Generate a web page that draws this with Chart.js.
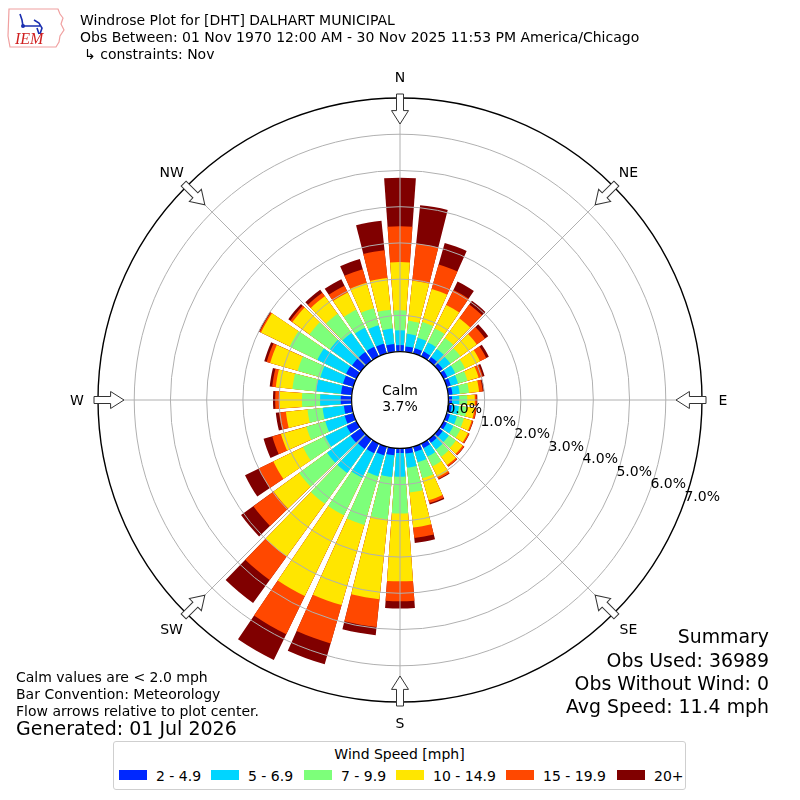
<!DOCTYPE html>
<html><head><meta charset="utf-8">
<script src="https://cdn.jsdelivr.net/npm/chart.js@4.4.1/dist/chart.umd.min.js"></script>
<style>
html,body{margin:0;padding:0;background:#fff;}
#wrap{position:relative;width:800px;height:800px;overflow:hidden;font-family:"DejaVu Sans",sans-serif;color:#000;background:#fff;}
canvas{position:absolute;left:0;top:0;}
.t{position:absolute;white-space:nowrap;line-height:1;}
#legend{position:absolute;left:113px;top:741px;width:571px;height:47px;border:1px solid #cfcfcf;border-radius:3px;background:#fff;}
</style></head><body>
<div id="wrap">
<canvas id="c" width="800" height="800"></canvas>
<svg style="position:absolute;left:6px;top:6px" width="60" height="44" viewBox="0 0 60 44">
  <path d="M3 3 L52 3 L54 8 L57 12 L55 18 L58 24 L54 30 L53 36 L50 41 L4 41 L2 30 Z" fill="none" stroke="#f0a0a0" stroke-width="1.2"/>
  <path d="M14 8 L16 14 L17 20 M16 20 L34 20 M28 14 L33 17 L36 22 L34 28 M31 22 L33 28" fill="none" stroke="#1a2fb0" stroke-width="1.6"/>
  <circle cx="17" cy="20" r="2" fill="#1a2fb0"/>
  <text x="9" y="38" font-family="Liberation Serif,serif" font-style="italic" font-size="16" fill="#d02020">IEM</text>
</svg>
<div class="t" style="left:80px;top:13.2px;font-size:14px">Windrose Plot for [DHT] DALHART MUNICIPAL</div>
<div class="t" style="left:80px;top:30.2px;font-size:14px">Obs Between: 01 Nov 1970 12:00 AM - 30 Nov 2025 11:53 PM America/Chicago</div>
<div class="t" style="left:84px;top:47.2px;font-size:14px">↳ constraints: Nov</div>
<div class="t" style="left:16px;top:670px;font-size:14px">Calm values are &lt; 2.0 mph</div>
<div class="t" style="left:16px;top:687px;font-size:14px">Bar Convention: Meteorology</div>
<div class="t" style="left:16px;top:704px;font-size:14px">Flow arrows relative to plot center.</div>
<div class="t" style="left:16px;top:719px;font-size:19px">Generated: 01 Jul 2026</div>
<div class="t" style="right:31px;top:627px;font-size:18.9px;text-align:right">Summary</div>
<div class="t" style="right:31px;top:650.5px;font-size:18.9px;text-align:right">Obs Used: 36989</div>
<div class="t" style="right:31px;top:674px;font-size:18.9px;text-align:right">Obs Without Wind: 0</div>
<div class="t" style="right:31px;top:697px;font-size:18.9px;text-align:right">Avg Speed: 11.4 mph</div>
<div id="legend"></div>
<div id="overlay"></div>
</div>
<script>
// ---- data (percent of observations per direction and speed bin) ----
const directions = [0,10,20,30,40,50,60,70,80,90,100,110,120,130,140,150,160,170,180,190,200,210,220,230,240,250,260,270,280,290,300,310,320,330,340,350];
const speed2to5   = [0.18,0.15,0.15,0.15,0.13,0.12,0.12,0.12,0.12,0.10,0.10,0.10,0.10,0.12,0.12,0.14,0.15,0.15,0.13,0.20,0.25,0.30,0.33,0.35,0.30,0.25,0.22,0.30,0.30,0.30,0.32,0.30,0.30,0.30,0.28,0.22];
const speed5to7   = [0.41,0.35,0.30,0.28,0.27,0.26,0.24,0.21,0.20,0.20,0.20,0.20,0.20,0.21,0.23,0.26,0.30,0.39,0.65,0.60,0.60,0.75,0.82,0.80,0.66,0.56,0.59,0.57,0.69,0.65,0.88,0.75,0.65,0.58,0.53,0.43];
const speed7to10  = [0.55,0.36,0.45,0.43,0.38,0.34,0.30,0.27,0.26,0.22,0.22,0.20,0.22,0.24,0.25,0.30,0.46,0.69,1.02,1.17,1.40,1.15,1.05,0.95,0.68,0.54,0.42,0.50,0.66,0.65,0.85,0.70,0.65,0.55,0.49,0.52];
const speed10to15 = [1.33,1.11,0.95,0.72,0.67,0.56,0.46,0.32,0.28,0.21,0.21,0.22,0.23,0.23,0.28,0.33,0.63,0.97,1.87,2.22,2.30,2.48,1.80,0.87,0.91,0.73,0.60,0.62,0.46,0.79,0.88,0.58,0.60,0.53,0.73,0.88];
const speed15to20 = [0.99,1.03,0.70,0.46,0.47,0.28,0.19,0.12,0.10,0.05,0.05,0.04,0.04,0.05,0.05,0.06,0.08,0.29,0.55,0.77,1.10,1.17,0.80,0.69,0.45,0.25,0.19,0.12,0.10,0.10,0.04,0.07,0.12,0.21,0.39,0.77];
const speed20plus = [1.34,1.07,0.62,0.26,0.13,0.11,0.08,0.05,0.04,0.02,0.01,0.01,0.01,0.01,0.01,0.02,0.04,0.14,0.20,0.23,0.60,0.79,0.78,0.42,0.42,0.25,0.09,0.06,0.07,0.07,0.03,0.07,0.10,0.20,0.29,0.82];
const binLabels = ['2 - 4.9','5 - 6.9','7 - 9.9','10 - 14.9','15 - 19.9','20+'];
const binColors = ['#0028ff','#00d5ff','#7dff7a','#ffe600','#ff4800','#800000'];
const ringValues = [0,1,2,3,4,5,6,7];
const calmPct = 3.7;
const compass = ['N','NE','E','SE','S','SW','W','NW'];

// ---- layout parameters ----
const calmHole = 1.336;      // radial offset (in % units) of the calm circle
const barDeg = 8.2, gapDeg = 1.8;
const pad = 97.4;

const bins = [speed2to5, speed5to7, speed7to10, speed10to15, speed15to20, speed20plus];
const labels = [];
directions.forEach(d => { labels.push(d + '°'); labels.push(''); });
const cum = directions.map(() => 0);
const datasets = bins.map((arr, k) => {
  const data = [];
  arr.forEach((v, i) => { cum[i] += v; data.push(+cum[i].toFixed(3)); data.push(0); });
  return {
    label: binLabels[k],
    data,
    backgroundColor: c => (c.dataIndex % 2 ? 'rgba(0,0,0,0)' : binColors[k]),
    angle: c => (c.dataIndex % 2 ? gapDeg : barDeg),
    borderWidth: 0
  };
});

const decor = {
  id: 'decor',
  afterDatasetsDraw(chart) {
    const s = chart.scales.r, ctx = chart.ctx;
    ctx.save();
    ctx.strokeStyle = '#b0b0b0'; ctx.lineWidth = 1;
    for (let k = 0; k < 8; k++) {
      const a = k * Math.PI / 4;
      ctx.beginPath();
      ctx.moveTo(s.xCenter, s.yCenter);
      ctx.lineTo(s.xCenter + Math.sin(a) * s.drawingArea, s.yCenter - Math.cos(a) * s.drawingArea);
      ctx.stroke();
    }
    ctx.restore();
  },
  afterDraw(chart) {
    const s = chart.scales.r, ctx = chart.ctx;
    const xc = s.xCenter, yc = s.yCenter, R = s.drawingArea;
    ctx.save();
    ctx.beginPath();
    ctx.arc(xc, yc, s.getDistanceFromCenterForValue(0), 0, Math.PI * 2);
    ctx.fillStyle = '#fff'; ctx.fill();
    ctx.strokeStyle = '#000'; ctx.lineWidth = 1.2; ctx.stroke();
    // flow arrows
    const tail = R + 4, base = R - 12.6, tip = R - 26;
    for (let k = 0; k < 8; k++) {
      ctx.save();
      ctx.translate(xc, yc);
      ctx.rotate(k * Math.PI / 4);
      ctx.beginPath();
      ctx.moveTo(-3.5, -tail); ctx.lineTo(3.5, -tail); ctx.lineTo(3.5, -base);
      ctx.lineTo(8.5, -base); ctx.lineTo(0, -tip); ctx.lineTo(-8.5, -base);
      ctx.lineTo(-3.5, -base); ctx.closePath();
      ctx.fillStyle = '#fff'; ctx.fill();
      ctx.strokeStyle = '#333'; ctx.lineWidth = 1; ctx.stroke();
      ctx.restore();
    }
    ctx.restore();
  }
};

const chart = new Chart(document.getElementById('c'), {
  type: 'polarArea',
  data: { labels, datasets },
  options: {
    responsive: false,
    animation: false,
    layout: { padding: pad },
    plugins: { legend: { display: false }, tooltip: { enabled: false }, title: { display: false } },
    elements: { arc: { borderWidth: 0 } },
    scales: {
      r: {
        min: -calmHole, max: 7, startAngle: -barDeg / 2,
        ticks: { display: false },
        pointLabels: { display: false },
        angleLines: { display: false },
        grid: {
          circular: true, z: 1,
          color: c => (c.tick && c.tick.value === 7 ? '#000' : '#b0b0b0'),
          lineWidth: c => (c.tick && c.tick.value === 7 ? 1.4 : 1)
        },
        afterBuildTicks: sc => { sc.ticks = [-calmHole].concat(ringValues).map(v => ({ value: v })); }
      }
    }
  },
  plugins: [decor]
});

// ---- text overlays positioned from the library's radial scale ----
const s = chart.scales.r;
const ov = document.getElementById('overlay');
function addText(txt, left, top, size, extra) {
  const d = document.createElement('div');
  d.className = 't'; d.textContent = txt;
  d.style.left = left + 'px'; d.style.top = top + 'px'; d.style.fontSize = size + 'px';
  if (extra) Object.assign(d.style, extra);
  ov.appendChild(d);
  return d;
}
const fs = 14;
const ta = 20.2 * Math.PI / 180;
ringValues.forEach(v => {
  const d = s.getDistanceFromCenterForValue(v);
  addText(v.toFixed(1) + '%', s.xCenter + d * Math.cos(ta) + 1, s.yCenter + d * Math.sin(ta) - 9 - 0.48 * fs, fs);
});
compass.forEach((n, k) => {
  const a = k * Math.PI / 4, r = s.drawingArea + 21;
  const x = s.xCenter + Math.sin(a) * r, y = s.yCenter - Math.cos(a) * r;
  addText(n, x, y - 0.48 * fs, fs, { transform: 'translateX(-50%)' });
});
addText('Calm', s.xCenter, s.yCenter - 10 - 0.48 * 14, 14, { transform: 'translateX(-50%)' });
addText(calmPct.toFixed(1) + '%', s.xCenter, s.yCenter + 6 - 0.48 * 14, 14, { transform: 'translateX(-50%)' });

// ---- legend ----
const lg = document.getElementById('legend');
const lt = document.createElement('div');
lt.className = 't'; lt.textContent = 'Wind Speed [mph]';
lt.style.fontSize = '14px'; lt.style.top = '4.5px'; lt.style.left = '50%'; lt.style.transform = 'translateX(-50%)';
lg.appendChild(lt);
const patchX = [5, 97, 190, 282, 392, 503];
binLabels.forEach((lab, k) => {
  const p = document.createElement('div');
  p.style.cssText = 'position:absolute;width:28px;height:10px;top:28px;left:' + patchX[k] + 'px;background:' + binColors[k];
  lg.appendChild(p);
  const t = document.createElement('div');
  t.className = 't'; t.textContent = lab; t.style.fontSize = '14px';
  t.style.left = (patchX[k] + 37) + 'px'; t.style.top = '26.5px';
  lg.appendChild(t);
});
</script>
</body></html>
